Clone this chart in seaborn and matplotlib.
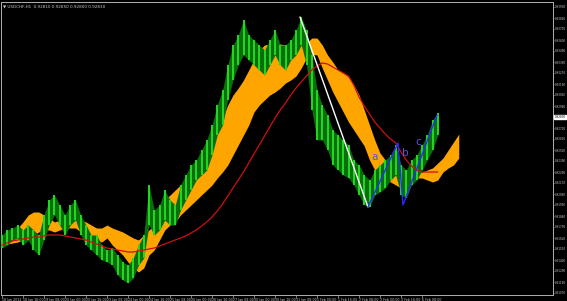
import numpy as np
import pandas as pd
import matplotlib
matplotlib.use("Agg")
import matplotlib.pyplot as plt
import seaborn as sns

# ---------------- data (prices) ----------------
bar_high = [0.9165, 0.9170, 0.9172, 0.9175, 0.9170, 0.9175, 0.9170, 0.9165, 0.9185, 0.9200,
            0.9205, 0.9195, 0.9185, 0.9195, 0.9200, 0.9185, 0.9175, 0.9165, 0.9165, 0.9155,
            0.9150, 0.9152, 0.9145, 0.9138, 0.9135, 0.9142, 0.9155, 0.9165, 0.9215, 0.9190,
            0.9195, 0.9210, 0.9200, 0.9195, 0.9215, 0.9225, 0.9235, 0.9240, 0.9250, 0.9260,
            0.9275, 0.9295, 0.9310, 0.9335, 0.9355, 0.9365, 0.9380, 0.9365, 0.9360, 0.9355,
            0.9350, 0.9360, 0.9370, 0.9355, 0.9355, 0.9360, 0.9370, 0.9383, 0.9370, 0.9345,
            0.9310, 0.9295, 0.9285, 0.9270, 0.9265, 0.9260, 0.9255, 0.9240, 0.9235, 0.9225,
            0.9220, 0.9230, 0.9235, 0.9240, 0.9245, 0.9255, 0.9235, 0.9230, 0.9240, 0.9245,
            0.9255, 0.9265, 0.9280, 0.9287]
bar_low = [0.9152, 0.9155, 0.9160, 0.9162, 0.9155, 0.9160, 0.9150, 0.9145, 0.9160, 0.9175,
           0.9185, 0.9175, 0.9165, 0.9175, 0.9180, 0.9165, 0.9155, 0.9150, 0.9145, 0.9140,
           0.9138, 0.9135, 0.9125, 0.9120, 0.9117, 0.9122, 0.9135, 0.9142, 0.9175, 0.9165,
           0.9170, 0.9180, 0.9175, 0.9175, 0.9190, 0.9200, 0.9210, 0.9220, 0.9225, 0.9230,
           0.9245, 0.9265, 0.9275, 0.9300, 0.9320, 0.9335, 0.9345, 0.9340, 0.9335, 0.9330,
           0.9325, 0.9335, 0.9345, 0.9335, 0.9330, 0.9340, 0.9345, 0.9355, 0.9335, 0.9290,
           0.9260, 0.9260, 0.9250, 0.9235, 0.9230, 0.9225, 0.9222, 0.9215, 0.9205, 0.9195,
           0.9193, 0.9205, 0.9208, 0.9212, 0.9220, 0.9225, 0.9205, 0.9202, 0.9215, 0.9220,
           0.9230, 0.9240, 0.9250, 0.9265]

cloud_upper = [0.9163, 0.9164, 0.9167, 0.9172, 0.9178, 0.9185, 0.9188, 0.9188, 0.9185, 0.9182,
               0.9178, 0.9180, 0.9185, 0.9188, 0.9185, 0.9180, 0.9178, 0.9175, 0.9172, 0.9172,
               0.9175, 0.9172, 0.9170, 0.9168, 0.9165, 0.9162, 0.9160, 0.9165, 0.9170, 0.9175,
               0.9185, 0.9200, 0.9205, 0.9210, 0.9215, 0.9220, 0.9225, 0.9235, 0.9245, 0.9252,
               0.9260, 0.9270, 0.9282, 0.9295, 0.9305, 0.9312, 0.9320, 0.9330, 0.9340, 0.9350,
               0.9355, 0.9356, 0.9356, 0.9356, 0.9355, 0.9355, 0.9355, 0.9356, 0.9357, 0.9362,
               0.9362, 0.9355, 0.9345, 0.9338, 0.9330, 0.9327, 0.9323, 0.9315, 0.9305, 0.9290,
               0.9275, 0.9260, 0.9247, 0.9240, 0.9235, 0.9232, 0.9230, 0.9228, 0.9230, 0.9228,
               0.9228, 0.9230, 0.9232, 0.9237, 0.9242, 0.9250, 0.9258, 0.9266]
cloud_lower = [0.9155, 0.9156, 0.9157, 0.9158, 0.9160, 0.9162, 0.9165, 0.9168, 0.9170, 0.9170,
               0.9168, 0.9170, 0.9172, 0.9172, 0.9172, 0.9168, 0.9165, 0.9162, 0.9160, 0.9158,
               0.9162, 0.9155, 0.9150, 0.9145, 0.9138, 0.9132, 0.9128, 0.9132, 0.9145, 0.9150,
               0.9160, 0.9170, 0.9175, 0.9178, 0.9185, 0.9190, 0.9195, 0.9200, 0.9205, 0.9210,
               0.9215, 0.9222, 0.9228, 0.9235, 0.9245, 0.9255, 0.9265, 0.9275, 0.9288, 0.9295,
               0.9300, 0.9305, 0.9308, 0.9312, 0.9317, 0.9320, 0.9324, 0.9332, 0.9342, 0.9346,
               0.9345, 0.9332, 0.9320, 0.9308, 0.9298, 0.9288, 0.9278, 0.9270, 0.9262, 0.9254,
               0.9240, 0.9230, 0.9225, 0.9222, 0.9218, 0.9215, 0.9212, 0.9215, 0.9220, 0.9222,
               0.9222, 0.9220, 0.9218, 0.9220, 0.9228, 0.9232, 0.9235, 0.9242]

moving_avg = [0.9155, 0.9157, 0.9159, 0.9160, 0.9161, 0.9162, 0.9163, 0.9163, 0.9164, 0.9165,
              0.9165, 0.9165, 0.9164, 0.9163, 0.9162, 0.9161, 0.9160, 0.9158, 0.9156, 0.9154,
              0.9152, 0.9151, 0.9150, 0.9149, 0.9148, 0.9148, 0.9149, 0.9150, 0.9151, 0.9152,
              0.9154, 0.9156, 0.9158, 0.9160, 0.9162, 0.9164, 0.9167, 0.9170, 0.9174, 0.9178,
              0.9183, 0.9189, 0.9196, 0.9204, 0.9212, 0.9220, 0.9228, 0.9237, 0.9246, 0.9255,
              0.9264, 0.9273, 0.9282, 0.9290, 0.9297, 0.9305, 0.9312, 0.9318, 0.9324, 0.9330,
              0.9334, 0.9337, 0.9336, 0.9333, 0.9330, 0.9327, 0.9324, 0.9315, 0.9303, 0.9294,
              0.9286, 0.9278, 0.9272, 0.9266, 0.9261, 0.9257, 0.9248, 0.9240, 0.9234, 0.9230,
              0.9228, 0.9228, 0.9228, 0.9228]

# trend lines drawn on the chart (bar position, price)
white_line_x = [56.76, 69.71]
white_line_y = [0.9383, 0.9193]
wave_x = [69.71, 75.43, 76.38, 82.86]
wave_y = [0.9193, 0.9257, 0.9195, 0.9285]
wave_labels = ["a", "b", "c"]
wave_label_x = [71.05, 76.76, 79.24]
wave_label_y = [0.9243, 0.9247, 0.9258]

price_ticks = [0.93930, 0.93820, 0.93710, 0.93600, 0.93490, 0.93380, 0.93270, 0.93160, 0.93050,
               0.92940, 0.92830, 0.92720, 0.92610, 0.92500, 0.92390, 0.92280, 0.92170, 0.92060,
               0.91950, 0.91840, 0.91730, 0.91620, 0.91510, 0.91400, 0.91290, 0.91180, 0.91070]
time_labels = ["18 Jan 2012", "18 Jan 16:00", "19 Jan 08:00", "20 Jan 00:00", "20 Jan 16:00",
               "23 Jan 08:00", "24 Jan 00:00", "24 Jan 16:00", "25 Jan 08:00", "26 Jan 00:00",
               "26 Jan 16:00", "27 Jan 08:00", "30 Jan 00:00", "30 Jan 16:00", "31 Jan 08:00",
               "1 Feb 00:00", "1 Feb 16:00", "2 Feb 08:00", "3 Feb 00:00", "3 Feb 16:00",
               "6 Feb 08:00"]
current_price = 0.92830
title_text = "USDCHF,H1  0.92810 0.92850 0.92800 0.92830"

# ---------------- drawing ----------------
sns.set_theme(style="dark")
plt.rcParams["font.family"] = ["DejaVu Sans"]

fig = plt.figure(figsize=(5.67, 3.01), dpi=100, facecolor="black")
ax = fig.add_axes([1 / 567, 6 / 301, 552 / 567, 293 / 301])
ax.set_facecolor("black")

n_bars = len(bar_high)
n_cloud = len(cloud_upper)
bars = pd.DataFrame({"pos": np.arange(n_bars), "high": bar_high, "low": bar_low})
cloud = pd.DataFrame({"pos": np.arange(n_cloud), "upper": cloud_upper, "lower": cloud_lower})
ma = pd.DataFrame({"pos": np.arange(len(moving_avg)), "ma": moving_avg})

# ichimoku cloud
ax.fill_between(cloud["pos"], cloud["lower"], cloud["upper"], color="#ffa500", lw=0, zorder=2)

# price bars: dark high-low range band plus bright vertical bars
ax.fill_between(bars["pos"], bars["low"], bars["high"], color="#0a6e0a", lw=0, zorder=3)
ax.vlines(bars["pos"], bars["low"], bars["high"], color="#22d822", lw=1.4, zorder=3)

# moving average
sns.lineplot(data=ma, x="pos", y="ma", ax=ax, color="#d01010", lw=0.9, zorder=4, legend=False)

# trend lines
sns.lineplot(x=white_line_x, y=white_line_y, ax=ax, color="white", lw=1.0, zorder=5,
             sort=False, estimator=None)
sns.lineplot(x=wave_x, y=wave_y, ax=ax, color="#2a2aff", lw=1.0, zorder=5,
             sort=False, estimator=None)
for lab, lx, ly in zip(wave_labels, wave_label_x, wave_label_y):
    ax.text(lx, ly, lab, color="#5a50e0", fontsize=7.5, ha="center", va="center", zorder=6)

ax.set_xlim(-0.19, 104.95)
ax.set_ylim(0.9105, 0.9398)
ax.set_xlabel("")
ax.set_ylabel("")

# axes styling
for s in ax.spines.values():
    s.set_visible(True)
    s.set_color("#b0b0b0")
    s.set_linewidth(0.7)
ax.grid(False)

ax.yaxis.tick_right()
ax.set_yticks(price_ticks)
ax.set_yticklabels(["" if abs(v - current_price) < 1e-6 else f"{v:.5f}" for v in price_ticks])
ax.tick_params(axis="y", colors="#b0b0b0", labelcolor="#c8c8c8", labelsize=1.95, length=1,
               width=0.5, pad=0.3, right=True, left=False, direction="out")

ax.set_xticks(np.arange(len(time_labels)) * 4)
ax.set_xticklabels(time_labels)
for t in ax.get_xticklabels():
    t.set_horizontalalignment("left")
ax.tick_params(axis="x", colors="#b0b0b0", labelcolor="#c8c8c8", labelsize=2.3, length=2,
               width=0.5, pad=0.5, bottom=True, direction="out")

# current price marker
ax.text(1.003, current_price, f"{current_price:.5f}", transform=ax.get_yaxis_transform(),
        fontsize=1.95, color="black", va="center", ha="left", clip_on=False,
        bbox=dict(boxstyle="square,pad=0.1", fc="white", ec="white"))

# header text
ax.text(0.004, 0.99, "\u25bc " + title_text, transform=ax.transAxes, fontsize=3,
        color="#c8c8c8", va="top", ha="left")

fig.savefig("out.png", dpi=100, facecolor="black")
